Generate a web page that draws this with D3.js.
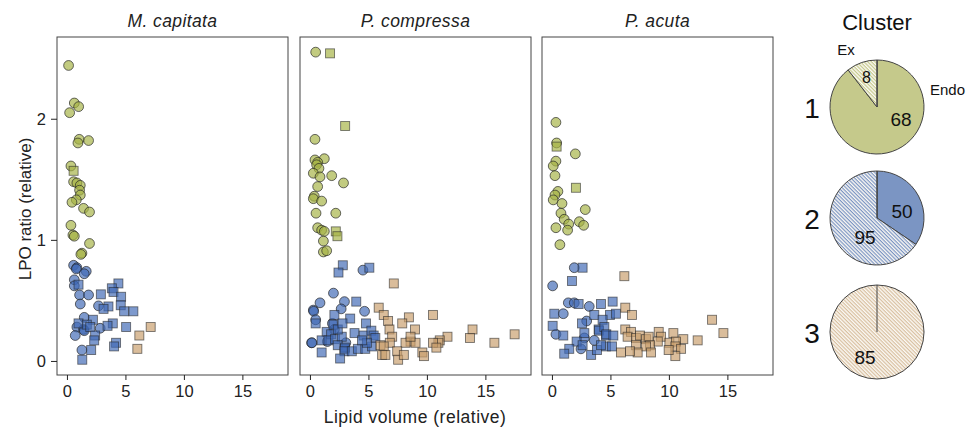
<!DOCTYPE html>
<html><head><meta charset="utf-8">
<script src="https://cdn.jsdelivr.net/npm/d3@7/dist/d3.min.js"></script>
<style>body{margin:0;background:#fff}svg{display:block}text{font-family:"Liberation Sans",Arial,sans-serif}</style>
</head><body><svg id="c" width="973" height="428"></svg>
<script>
// ---------- DATA ----------
const species = ["M. capitata", "P. compressa", "P. acuta"];
const xTicks = [0, 5, 10, 15];
const yTicks = [0, 1, 2];
const clusters = ["1", "2", "3"];
const pieEndo = [68, 50, 0];
const pieEx = [8, 95, 85];

// [lipid volume, LPO ratio]; endo = circle, ex = square
const mcap_c1_endo = [[0.14,2.44],[0.63,2.13],[1.0,2.10],[0.23,2.05],[1.05,1.83],[1.85,1.82],[0.94,1.80],[0.34,1.61],[0.57,1.48],[0.85,1.47],[1.14,1.45],[1.08,1.41],[1.14,1.37],[0.80,1.33],[0.43,1.31],[1.42,1.26],[1.93,1.23],[0.34,1.12],[0.51,1.04],[0.63,1.03],[1.93,0.97],[1.28,0.89],[1.19,0.88]];
const mcap_c1_ex = [[0.57,1.57]];
const mcap_c2_endo = [[0.57,0.79],[0.85,0.77],[0.80,0.76],[1.65,0.74],[1.48,0.72],[0.63,0.67],[0.63,0.62],[1.08,0.545],[1.85,0.545],[1.14,0.47],[2.7,0.455],[1.48,0.36],[0.85,0.28],[1.42,0.26],[1.48,0.25],[2.84,0.27],[0.71,0.21],[1.28,0.09]];
const mcap_c2_ex = [[0.99,0.63],[4.40,0.64],[3.84,0.60],[3.98,0.57],[2.90,0.55],[4.63,0.53],[4.60,0.46],[3.55,0.45],[3.13,0.43],[5.68,0.41],[4.89,0.41],[2.22,0.34],[0.99,0.31],[1.70,0.30],[1.99,0.28],[3.92,0.31],[3.47,0.29],[5.06,0.28],[2.41,0.21],[2.33,0.17],[4.20,0.15],[4.03,0.12],[2.07,0.09],[1.31,0.01]];
const mcap_c3_ex = [[7.16,0.28],[6.19,0.21],[6.02,0.10]];

const pcom_c1_endo = [[0.49,2.55],[0.43,1.83],[0.43,1.66],[1.23,1.67],[0.66,1.64],[0.57,1.62],[0.77,1.59],[0.29,1.55],[0.86,1.52],[1.86,1.53],[2.87,1.47],[0.66,1.44],[0.37,1.36],[0.29,1.34],[1.0,1.32],[0.52,1.22],[2.21,1.22],[0.66,1.10],[1.0,1.08],[1.23,1.07],[1.15,0.99],[1.15,0.90],[1.43,0.91]];
const pcom_c1_ex = [[1.72,2.54],[3.01,1.94],[2.21,1.07],[2.35,1.03]];
const pcom_c2_endo = [[4.53,0.75],[2.01,0.56],[2.95,0.49],[0.86,0.48],[0.29,0.42],[0.32,0.41],[2.67,0.43],[4.67,0.41],[0.49,0.34],[0.14,0.15],[0.17,0.15],[1.49,0.16],[1.92,0.31],[2.09,0.26],[3.07,0.15]];
const pcom_c2_ex = [[2.81,0.79],[2.44,0.73],[5.08,0.77],[3.96,0.49],[2.09,0.38],[3.44,0.35],[0.49,0.31],[4.79,0.31],[1.43,0.24],[1.81,0.22],[1.0,0.17],[1.58,0.17],[2.15,0.18],[2.72,0.20],[3.81,0.23],[4.59,0.21],[5.25,0.25],[5.45,0.21],[5.59,0.19],[2.38,0.13],[2.95,0.10],[3.0,0.11],[2.95,0.08],[3.58,0.08],[4.10,0.10],[4.73,0.10],[5.31,0.12],[1.0,0.07],[2.58,0.02],[2.01,0.30],[2.38,0.26],[2.78,0.31],[4.87,0.15],[4.45,0.17]];
const pcom_c3_ex = [[7.17,0.64],[5.88,0.44],[6.31,0.38],[6.68,0.33],[8.46,0.36],[7.89,0.31],[10.52,0.38],[8.98,0.26],[6.80,0.26],[13.9,0.26],[17.5,0.22],[13.68,0.19],[15.77,0.15],[11.76,0.20],[11.1,0.17],[10.98,0.15],[10.52,0.15],[10.81,0.11],[8.60,0.16],[9.03,0.15],[8.17,0.15],[8.60,0.20],[7.03,0.20],[6.83,0.15],[6.02,0.13],[6.31,0.12],[6.17,0.05],[7.46,0.08],[7.54,0.01],[8.03,0.05],[9.61,0.07],[9.75,0.04],[6.45,0.05]];

const pacu_c1_endo = [[0.34,1.97],[0.40,1.80],[2.0,1.71],[0.34,1.65],[0.11,1.61],[0.26,1.53],[0.51,1.40],[0.26,1.37],[0.11,1.33],[0.86,1.30],[2.85,1.25],[0.77,1.22],[1.05,1.17],[1.43,1.13],[2.34,1.15],[2.71,1.12],[0.34,1.10],[1.34,1.08],[0.68,0.96]];
const pacu_c1_ex = [[0.40,1.77],[2.05,1.43]];
const pacu_c2_endo = [[1.91,0.77],[0.06,0.62],[1.40,0.48],[1.91,0.48],[3.19,0.45],[0.97,0.39],[2.97,0.33],[0.34,0.22],[2.77,0.19],[3.62,0.17],[2.48,0.10]];
const pacu_c2_ex = [[2.62,0.77],[1.71,0.66],[2.28,0.47],[4.19,0.47],[5.19,0.49],[0.20,0.39],[3.62,0.38],[4.96,0.38],[5.47,0.39],[2.57,0.31],[4.33,0.34],[0.06,0.29],[0.97,0.21],[2.77,0.23],[3.99,0.26],[4.02,0.25],[4.48,0.28],[4.62,0.21],[4.65,0.22],[5.25,0.21],[2.11,0.16],[1.48,0.10],[2.62,0.13],[1.05,0.06],[3.35,0.05],[3.85,0.09],[4.62,0.12],[5.13,0.12],[4.19,0.13]];
const pacu_c3_ex = [[6.19,0.70],[6.27,0.44],[6.84,0.38],[6.27,0.26],[6.76,0.24],[6.47,0.20],[7.19,0.19],[7.53,0.21],[8.04,0.18],[8.27,0.20],[9.13,0.24],[9.33,0.20],[9.05,0.16],[8.38,0.13],[8.04,0.12],[7.19,0.13],[7.33,0.07],[6.67,0.08],[5.90,0.07],[8.47,0.07],[10.38,0.23],[11.23,0.18],[10.04,0.15],[10.61,0.16],[10.55,0.12],[11.04,0.10],[10.55,0.04],[12.46,0.17],[13.69,0.34],[14.66,0.23],[9.98,0.09]];

const panelData = [
  {c1e: mcap_c1_endo, c1x: mcap_c1_ex, c2e: mcap_c2_endo, c2x: mcap_c2_ex, c3x: mcap_c3_ex},
  {c1e: pcom_c1_endo, c1x: pcom_c1_ex, c2e: pcom_c2_endo, c2x: pcom_c2_ex, c3x: pcom_c3_ex},
  {c1e: pacu_c1_endo, c1x: pacu_c1_ex, c2e: pacu_c2_endo, c2x: pacu_c2_ex, c3x: pacu_c3_ex}
];

// ---------- STYLE ----------
const colPt = {"1": "#a5b344", "2": "#3f69b5", "3": "#c99d6c"};
const colPie = {"1": "#c5c98b", "2": "#7b95c3", "3": "#efe3d4"};
const colHatch = {"1": "#c5c98b", "2": "#7b95c3", "3": "#d8bf9f"};
const FONT = "Liberation Sans, Arial, sans-serif";

const svg = d3.select("#c");
const defs = svg.append("defs");
clusters.forEach(c => {
  const p = defs.append("pattern").attr("id", "h" + c).attr("patternUnits", "userSpaceOnUse")
    .attr("width", 2.6).attr("height", 2.6).attr("patternTransform", "rotate(45)");
  p.append("rect").attr("width", 2.6).attr("height", 2.6).attr("fill", "#fbf9f4");
  p.append("rect").attr("width", 2.6).attr("height", 1.2).attr("fill", colHatch[c]);
});

const panelX = [57, 300, 542], pw = 231, panelTop = 37, ph = 338;
const x = d3.scaleLinear().domain([-0.85, 18.9]).range([0, pw]);
const y = d3.scaleLinear().domain([-0.116, 2.675]).range([ph, 0]);

panelData.forEach((pd, i) => {
  const g = svg.append("g").attr("transform", `translate(${panelX[i]},${panelTop})`);
  g.append("rect").attr("width", pw).attr("height", ph).attr("fill", "#fff");
  const layers = [["1", pd.c1e, "c"], ["1", pd.c1x, "s"], ["2", pd.c2e, "c"], ["2", pd.c2x, "s"], ["3", pd.c3x, "s"]];
  layers.forEach(([c, arr, shp]) => {
    if (shp === "c") {
      g.selectAll(null).data(arr).enter().append("circle")
        .attr("cx", d => x(d[0])).attr("cy", d => y(d[1])).attr("r", 4.9)
        .attr("fill", colPt[c]).attr("fill-opacity", 0.68)
        .attr("stroke", "#222").attr("stroke-opacity", 0.75).attr("stroke-width", 0.9);
    } else {
      g.selectAll(null).data(arr).enter().append("rect")
        .attr("x", d => x(d[0]) - 4.5).attr("y", d => y(d[1]) - 4.5).attr("width", 9).attr("height", 9)
        .attr("fill", colPt[c]).attr("fill-opacity", 0.68)
        .attr("stroke", "#222").attr("stroke-opacity", 0.6).attr("stroke-width", 0.9);
    }
  });
  g.append("rect").attr("width", pw).attr("height", ph).attr("fill", "none").attr("stroke", "#444").attr("stroke-width", 1);
  const xa = g.append("g").attr("transform", `translate(0,${ph})`)
    .call(d3.axisBottom(x).tickValues(xTicks).tickSize(5).tickPadding(5));
  xa.select(".domain").remove();
  xa.selectAll("line").attr("stroke", "#222");
  xa.selectAll("text").attr("font-size", 16.5).attr("fill", "#222").attr("font-family", FONT);
  if (i === 0) {
    const ya = g.append("g").call(d3.axisLeft(y).tickValues(yTicks).tickFormat(d3.format("d")).tickSize(6).tickPadding(5));
    ya.select(".domain").remove();
    ya.selectAll("line").attr("stroke", "#222");
    ya.selectAll("text").attr("font-size", 16.5).attr("fill", "#222").attr("font-family", FONT);
  }
  svg.append("text").attr("x", panelX[i] + pw / 2).attr("y", 26.5).attr("text-anchor", "middle")
    .attr("font-size", 17.5).attr("letter-spacing", 0.4).attr("font-style", "italic").attr("fill", "#222").text(species[i]);
});

svg.append("text").attr("transform", "translate(31,209) rotate(-90)").attr("text-anchor", "middle")
  .attr("font-size", 17).attr("fill", "#222").text("LPO ratio (relative)");
svg.append("text").attr("x", 415).attr("y", 423).attr("text-anchor", "middle")
  .attr("font-size", 17.5).attr("letter-spacing", 0.5).attr("fill", "#222").text("Lipid volume (relative)");

// ---------- PIES ----------
const pieCx = 877, pieCy = [107, 218, 332], pr = 47;
// label offsets (text centre relative to pie centre), [endo, ex]
const labelOff = [[[24, 12], [-10.5, -30]], [[25, -7], [-12, 19]], [[0, 0], [-12, 25]]];
svg.append("text").attr("x", pieCx).attr("y", 30).attr("text-anchor", "middle").attr("font-size", 22).attr("fill", "#111").text("Cluster");
const pie = d3.pie().sort(null).value(d => d.v);
const arc = d3.arc().innerRadius(0).outerRadius(pr);
clusters.forEach((c, i) => {
  const g = svg.append("g").attr("transform", `translate(${pieCx},${pieCy[i]})`);
  const arcs = pie([{k: "endo", v: pieEndo[i]}, {k: "ex", v: pieEx[i]}]);
  g.selectAll(null).data(arcs.filter(a => a.data.v > 0)).enter().append("path").attr("d", arc)
    .attr("fill", d => d.data.k === "endo" ? colPie[c] : `url(#h${c})`)
    .attr("stroke", "#444").attr("stroke-width", 1);
  g.append("line").attr("x1", 0).attr("y1", 0).attr("x2", 0).attr("y2", -pr).attr("stroke", "#444").attr("stroke-width", 1);
  svg.append("text").attr("x", 812).attr("y", pieCy[i] + 10.5).attr("text-anchor", "middle")
    .attr("font-size", 28).attr("fill", "#111").text(c);
  arcs.forEach((a, j) => {
    if (a.data.v === 0) return;
    const [lx, ly] = labelOff[i][j];
    g.append("text").attr("x", lx).attr("y", ly).attr("dy", "0.36em").attr("text-anchor", "middle")
      .attr("font-size", a.data.v > 20 ? 19 : 16).attr("fill", "#111").text(a.data.v);
  });
});
svg.append("text").attr("x", 846).attr("y", 55).attr("text-anchor", "middle").attr("font-size", 15).attr("fill", "#111").text("Ex");
svg.append("text").attr("x", 930).attr("y", 95).attr("text-anchor", "start").attr("font-size", 15).attr("fill", "#111").text("Endo");
</script></body></html>
